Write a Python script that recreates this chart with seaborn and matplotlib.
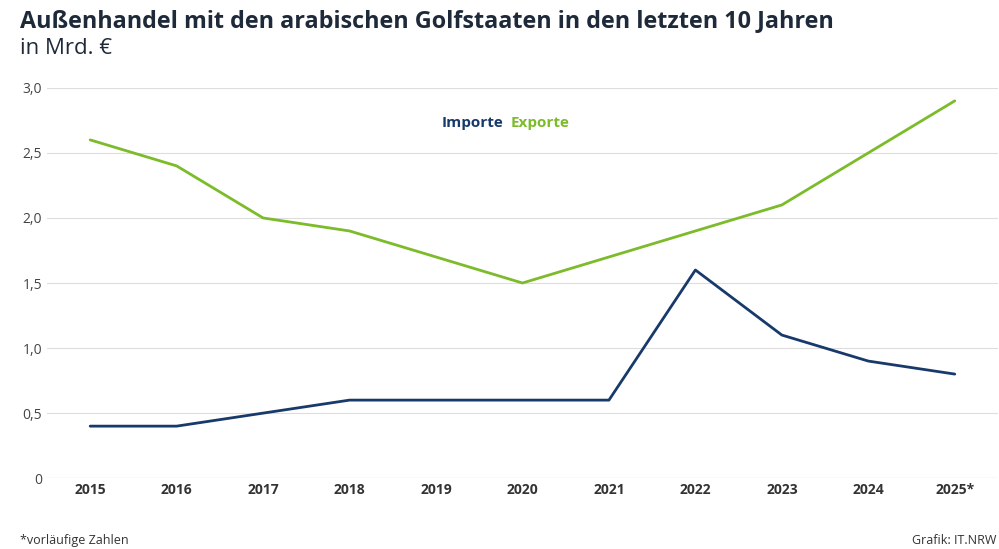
import pandas as pd
import matplotlib.pyplot as plt
import seaborn as sns

YEARS = list(range(2015, 2026))
IMPORTE = [0.4, 0.4, 0.5, 0.6, 0.6, 0.6, 0.6, 1.6, 1.1, 0.9, 0.8]
EXPORTE = [2.6, 2.4, 2.0, 1.9, 1.7, 1.5, 1.7, 1.9, 2.1, 2.5, 2.9]
NAVY = "#173a6b"
GREEN = "#7cbb2a"

def build_dataset() -> pd.DataFrame:
    return pd.DataFrame({"Jahr": YEARS, "Importe": IMPORTE, "Exporte": EXPORTE})

def plot_trade(df: pd.DataFrame):
    sns.set_style("white")
    plt.rcParams["font.family"] = ["Open Sans", "DejaVu Sans"]
    fig = plt.figure(figsize=(9.99, 5.49), dpi=100)
    ax = fig.add_axes([0.047, 0.129, 0.952, 0.711])
    sns.lineplot(data=df, x="Jahr", y="Importe", color=NAVY, linewidth=2, ax=ax)
    sns.lineplot(data=df, x="Jahr", y="Exporte", color=GREEN, linewidth=2, ax=ax)
    ax.set_xlim(2014.5, 2025.5)
    ax.set_ylim(0, 3.0)
    ax.set_yticks([0, 0.5, 1.0, 1.5, 2.0, 2.5, 3.0])
    ax.set_yticklabels(["0", "0,5", "1,0", "1,5", "2,0", "2,5", "3,0"], color="#444444", fontsize=10)
    ax.set_xticks(YEARS)
    ax.set_xticklabels([str(y) for y in YEARS[:-1]] + ["2025*"], fontweight="bold", color="#333333", fontsize=10)
    ax.grid(axis="y", color="#dddddd", linewidth=0.8)
    ax.set_xlabel("")
    ax.set_ylabel("")
    ax.tick_params(length=0)
    sns.despine(ax=ax, left=True, bottom=True)
    ax.axhline(0, color="#bbbbbb", linewidth=0.8)
    ax.text(0.48, 0.9, "Importe", transform=ax.transAxes, ha="right", color=NAVY, fontweight="bold", fontsize=11)
    ax.text(0.488, 0.9, "Exporte", transform=ax.transAxes, ha="left", color=GREEN, fontweight="bold", fontsize=11)
    fig.text(0.02, 0.962, "Außenhandel mit den arabischen Golfstaaten in den letzten 10 Jahren",
             fontweight="bold", fontsize=16.8, color="#1e2a3a", va="center")
    fig.text(0.02, 0.912, "in Mrd. €", fontsize=16, color="#1e2a3a", va="center")
    fig.text(0.02, 0.01, "*vorläufige Zahlen", fontsize=9, color="#333333")
    fig.text(0.997, 0.01, "Grafik: IT.NRW", fontsize=9, color="#333333", ha="right")
    fig.savefig("out.png", dpi=100)
    plt.close(fig)

def run():
    df = build_dataset()
    plot_trade(df)

if __name__ == "__main__":
    run()
